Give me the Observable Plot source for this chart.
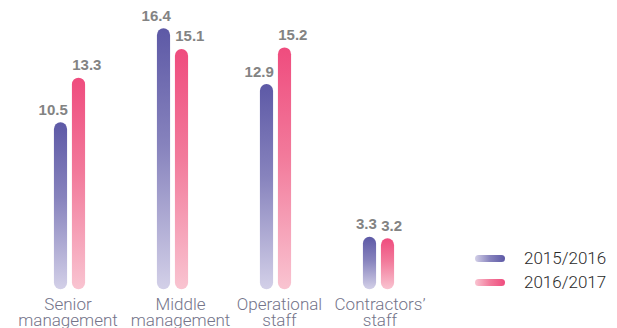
<!DOCTYPE html>
<html>
<head>
<meta charset="utf-8">
<script src="https://cdn.jsdelivr.net/npm/d3@7"></script>
<script src="https://cdn.jsdelivr.net/npm/@observablehq/plot@0.6"></script>
<style>
  html, body { margin: 0; padding: 0; background: #fff; }
  #wrap { position: relative; width: 617px; height: 328px; overflow: hidden; font-family: Roboto, "Liberation Sans", sans-serif; }
  #legend { position: absolute; left: 475px; top: 246px; }
  .row { display: flex; align-items: center; height: 24px; }
  .sw { width: 30px; height: 7px; border-radius: 3.5px; margin-right: 19px; }
  .lab { font-size: 17px; font-weight: 300; color: #2a2a2a; }
</style>
</head>
<body>
<div id="wrap"></div>
<script>
const categories = ["Senior\nmanagement", "Middle\nmanagement", "Operational\nstaff", "Contractors’\nstaff"];
const series = ["2015/2016", "2016/2017"];
const values2015 = [10.5, 16.4, 12.9, 3.3];
const values2016 = [13.3, 15.1, 15.2, 3.2];
const colors = {
  "2015/2016": {top: "#5d59a6", mid: "#8783bd", bottom: "#d3d0e8"},
  "2016/2017": {top: "#ef4c7e", mid: "#f27a9b", bottom: "#f9c4d1"}
};
// small horizontal nudges of the category labels, as in the reference layout
const labelNudge = [-2, 7.5, 3.5, 1];

const d1 = categories.map((c, i) => ({category: c, series: series[0], value: values2015[i]}));
const d2 = categories.map((c, i) => ({category: c, series: series[1], value: values2016[i]}));

const barW = 13.5;
const step = (617 - 17.2 - 186.4) / categories.length;
const inset = (step - barW) / 2;
const off = 9;

const labelStyle = {fontSize: 15, fontWeight: "bold", fill: "#838383", fontFamily: "'Liberation Sans', Arial, sans-serif", dy: -8, lineAnchor: "bottom"};

const chart = Plot.plot({
  width: 617,
  height: 328,
  marginLeft: 17.2,
  marginRight: 186.4,
  marginTop: 28.3,
  marginBottom: 38.7,
  style: {fontFamily: "Roboto, 'Liberation Sans', sans-serif", background: "transparent"},
  x: {domain: categories, padding: 0, axis: null},
  y: {domain: [0, 16.4], axis: null},
  marks: [
    Plot.barY(d1, {x: "category", y: "value", fill: "url(#grad0)", rx: barW / 2, insetLeft: inset, insetRight: inset, dx: -off}),
    Plot.barY(d2, {x: "category", y: "value", fill: "url(#grad1)", rx: barW / 2, insetLeft: inset, insetRight: inset, dx: off}),
    Plot.text(d1, {x: "category", y: "value", text: d => d.value.toFixed(1), textAnchor: "end", dx: -off + barW / 2, ...labelStyle}),
    Plot.text(d2, {x: "category", y: "value", text: d => d.value.toFixed(1), textAnchor: "start", dx: off - barW / 2, ...labelStyle}),
    ...categories.map((c, i) => Plot.axisX({ticks: [c], dx: labelNudge[i], tickSize: 0, tickPadding: 8, fontSize: 17, lineHeight: 0.97, fill: "#74748a", fontWeight: 300, label: null}))
  ]
});

const svg = d3.select(chart);
const defs = svg.insert("defs", ":first-child");
series.forEach((s, i) => {
  const g = defs.append("linearGradient").attr("id", "grad" + i).attr("x1", 0).attr("y1", 0).attr("x2", 0).attr("y2", 1);
  g.append("stop").attr("offset", "0%").attr("stop-color", colors[s].top);
  g.append("stop").attr("offset", "45%").attr("stop-color", colors[s].mid);
  g.append("stop").attr("offset", "100%").attr("stop-color", colors[s].bottom);
});

const wrap = document.getElementById("wrap");
wrap.appendChild(chart);

const legend = document.createElement("div");
legend.id = "legend";
series.forEach(s => {
  const row = document.createElement("div");
  row.className = "row";
  const sw = document.createElement("div");
  sw.className = "sw";
  sw.style.background = `linear-gradient(to right, ${colors[s].bottom}, ${colors[s].mid}, ${colors[s].top})`;
  const lab = document.createElement("span");
  lab.className = "lab";
  lab.textContent = s;
  row.appendChild(sw);
  row.appendChild(lab);
  legend.appendChild(row);
});
wrap.appendChild(legend);
</script>
</body>
</html>
